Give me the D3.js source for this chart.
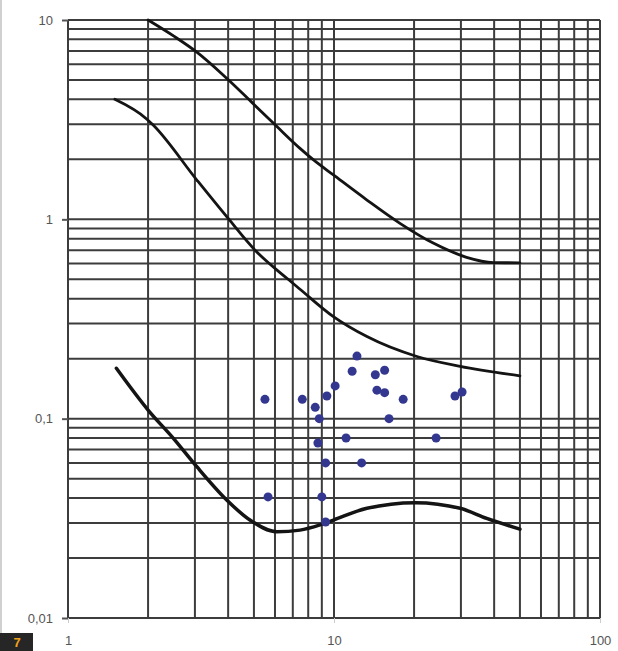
<!DOCTYPE html>
<html>
<head>
<meta charset="utf-8">
<script src="https://cdn.jsdelivr.net/npm/d3@7"></script>
<style>
  body { margin: 0; background: #fff; }
  svg { display: block; }
  .axis text { font-family: "Liberation Sans", Arial, sans-serif; font-size: 13px; fill: #555; }
  .axis path { display: none; }
</style>
</head>
<body>
<div class="chart"></div>
<script>
// DATA ---------------------------------------------------------------

const xTicks = [1, 10, 100];
const xLabels = ['1', '10', '100'];
const yTicks = [0.01, 0.1, 1, 10];
const yLabels = ['0,01', '0,1', '1', '10'];

// upper limit curve
const topCurveX = [2, 2.5, 3.05, 3.95, 4.97, 6.1, 7.45, 8.4, 9.95, 13.3, 17.7, 23.6, 31.5, 39.7, 50];
const topCurveY = [10, 8.3, 6.9, 5.1, 3.8, 2.92, 2.27, 1.98, 1.67, 1.25, 0.955, 0.76, 0.645, 0.607, 0.605];

// middle curve
const midCurveX = [1.5, 1.98, 2.09, 3.05, 4.0, 5.05, 6.65, 7.45, 9.95, 13.3, 20.5, 29.8, 50];
const midCurveY = [4.0, 3.18, 2.97, 1.575, 1.01, 0.70, 0.506, 0.446, 0.325, 0.258, 0.205, 0.183, 0.164];

// lower curve
const lowCurveX = [1.52, 2, 2.49, 3.05, 3.95, 4.83, 6.1, 7.45, 8.86, 9.95, 13.3, 20.2, 29.8, 37.5, 50];
const lowCurveY = [0.179, 0.1105, 0.0797, 0.0574, 0.0391, 0.031, 0.0271, 0.0276, 0.0293, 0.031, 0.0355, 0.0379, 0.0355, 0.0316, 0.0279];

// measured points
const dotX = [5.5, 7.6, 8.5, 8.8, 9.4, 10.1, 11.7, 12.2, 14.3, 15.5, 14.5, 15.5, 18.2, 16.1, 28.5, 30.3, 11.1, 24.2, 8.7, 9.3, 12.7, 5.65, 9.0, 9.3];
const dotY = [0.125, 0.125, 0.114, 0.1, 0.13, 0.146, 0.173, 0.206, 0.166, 0.175, 0.139, 0.135, 0.125, 0.1, 0.13, 0.136, 0.08, 0.08, 0.0755, 0.06, 0.06, 0.0405, 0.0405, 0.0303];

// CHART INIT ---------------------------------------------------------

const W = 618, H = 651;
const margin = ({top: 20, right: 18, bottom: 33, left: 68});

const svg = d3.select('.chart')
    .append('svg')
    .attr('width', W)
    .attr('height', H);

const xScale = d3.scaleLog()
    .domain([1, 100])
    .range([margin.left, W - margin.right]);

const yScale = d3.scaleLog()
    .domain([0.01, 10])
    .range([H - margin.bottom, margin.top]);

// left page edge
svg.append('line')
    .attr('x1', 1).attr('x2', 1)
    .attr('y1', 0).attr('y2', 634)
    .attr('stroke', '#d0d0d0')
    .attr('stroke-width', 2);

// grid: every 1..9 of each decade
const gridX = [];
for (let d = 1; d < 100; d *= 10) {
    for (let k = 1; k < 10; k++) gridX.push(d * k);
}
gridX.push(100);
const gridY = [];
for (let d = 0.01; d < 10; d *= 10) {
    for (let k = 1; k < 10; k++) gridY.push(+(d * k).toPrecision(3));
}
gridY.push(10);

const grid = svg.append('g').attr('class', 'grid');

grid.selectAll('.hline')
    .data(gridY)
    .enter()
    .append('line')
    .attr('class', 'hline')
    .attr('x1', xScale(1))
    .attr('x2', xScale(100))
    .attr('y1', d => yScale(d))
    .attr('y2', d => yScale(d))
    .attr('stroke', '#3c3c3c')
    .attr('stroke-width', 2);

grid.selectAll('.vline')
    .data(gridX)
    .enter()
    .append('line')
    .attr('class', 'vline')
    .attr('x1', d => xScale(d))
    .attr('x2', d => xScale(d))
    .attr('y1', yScale(10))
    .attr('y2', yScale(0.01))
    .attr('stroke', '#3c3c3c')
    .attr('stroke-width', 2);

// axes
const xAxis = d3.axisBottom(xScale)
    .tickValues(xTicks)
    .tickFormat((d, i) => xLabels[i])
    .tickSize(5)
    .tickPadding(13);

const yAxis = d3.axisLeft(yScale)
    .tickValues(yTicks)
    .tickFormat((d, i) => yLabels[i])
    .tickSize(6)
    .tickPadding(9);

svg.append('g')
    .attr('class', 'axis x-axis')
    .attr('transform', 'translate(0,' + yScale(0.01) + ')')
    .call(xAxis)
    .selectAll('line')
    .attr('stroke', '#ccc');

svg.append('g')
    .attr('class', 'axis y-axis')
    .attr('transform', 'translate(' + xScale(1) + ',0)')
    .call(yAxis)
    .selectAll('line')
    .attr('stroke', '#555')
    .attr('stroke-width', 2);

// curves
const line = d3.line()
    .x(d => xScale(d[0]))
    .y(d => yScale(d[1]))
    .curve(d3.curveMonotoneX);

const curves = [
    {x: topCurveX, y: topCurveY, w: 2.8},
    {x: midCurveX, y: midCurveY, w: 2.8},
    {x: lowCurveX, y: lowCurveY, w: 3.5}
];

svg.selectAll('.curve')
    .data(curves)
    .enter()
    .append('path')
    .attr('class', 'curve')
    .attr('d', c => line(c.x.map((v, i) => [v, c.y[i]])))
    .attr('fill', 'none')
    .attr('stroke', '#141414')
    .attr('stroke-width', c => c.w)
    .attr('stroke-linecap', 'round');

// dots
svg.selectAll('.dot')
    .data(dotX.map((v, i) => [v, dotY[i]]))
    .enter()
    .append('circle')
    .attr('class', 'dot')
    .attr('cx', d => xScale(d[0]))
    .attr('cy', d => yScale(d[1]))
    .attr('r', 4.5)
    .attr('fill', '#33378f');

// figure number badge
svg.append('rect')
    .attr('x', 0).attr('y', 633)
    .attr('width', 33).attr('height', 18)
    .attr('fill', '#262626');

svg.append('text')
    .attr('x', 17).attr('y', 647)
    .attr('text-anchor', 'middle')
    .attr('font-family', '"Liberation Sans", Arial, sans-serif')
    .attr('font-weight', 'bold')
    .attr('font-size', 13)
    .attr('fill', '#f2a31b')
    .text('7');
</script>
</body>
</html>
